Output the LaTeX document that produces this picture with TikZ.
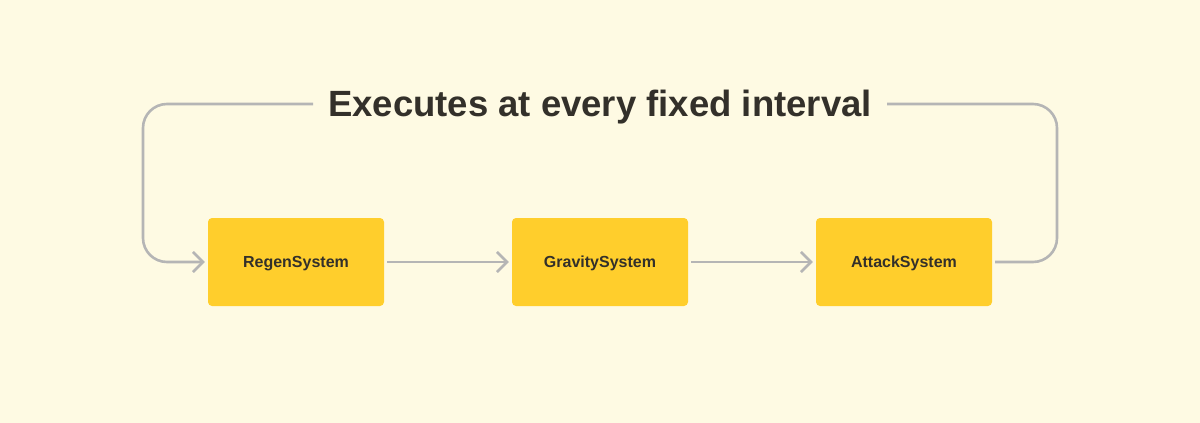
\documentclass[tikz,border=0pt]{standalone}
\usepackage{fontspec}
\setmainfont{Liberation Sans}
\usetikzlibrary{arrows.meta}
\definecolor{bgc}{HTML}{FEFAE3}
\definecolor{boxc}{HTML}{FFCE2C}
\definecolor{linec}{HTML}{B5B5B5}
\definecolor{txtc}{HTML}{33302A}
\begin{document}
\begin{tikzpicture}[x=1pt,y=-1pt,
  sysbox/.style={fill=boxc, rounded corners=4pt, minimum width=176pt, minimum height=88pt, inner sep=0pt, text=txtc, font=\fontsize{16}{18}\selectfont\bfseries, text height=11.5pt, text depth=0pt},
  conn/.style={draw=linec, line width=2.6pt, rounded corners=24pt},
  arr/.style={-{Straight Barb[length=10pt,width=20pt,line width=2.6pt]}}
]
\fill[bgc] (0,0) rectangle (1200,423);
\useasboundingbox (0,0) rectangle (1200,423);
\node[sysbox] (regen) at (296,262) {RegenSystem};
\node[sysbox] (grav) at (600,262) {GravitySystem};
\node[sysbox] (atk) at (904,262) {AttackSystem};
\node[text=txtc, font=\fontsize{36.5}{40}\selectfont\bfseries, inner sep=0pt, text height=26.2pt, text depth=0pt] (title) at (600,103.7) {Executes at every fixed interval};
\coordinate (tl) at (313,104);
\coordinate (tr) at (887,104);
\draw[conn, arr, shorten >=3pt] (tl) -- (143,104) -- (143,262) -- (regen.west);
\draw[conn, arr, shorten >=3pt, shorten <=3pt] (regen) -- (grav);
\draw[conn, arr, shorten >=3pt, shorten <=3pt] (grav) -- (atk);
\draw[conn, shorten <=3pt] (atk.east) -- (1057,262) -- (1057,104) -- (tr);
\end{tikzpicture}
\end{document}
